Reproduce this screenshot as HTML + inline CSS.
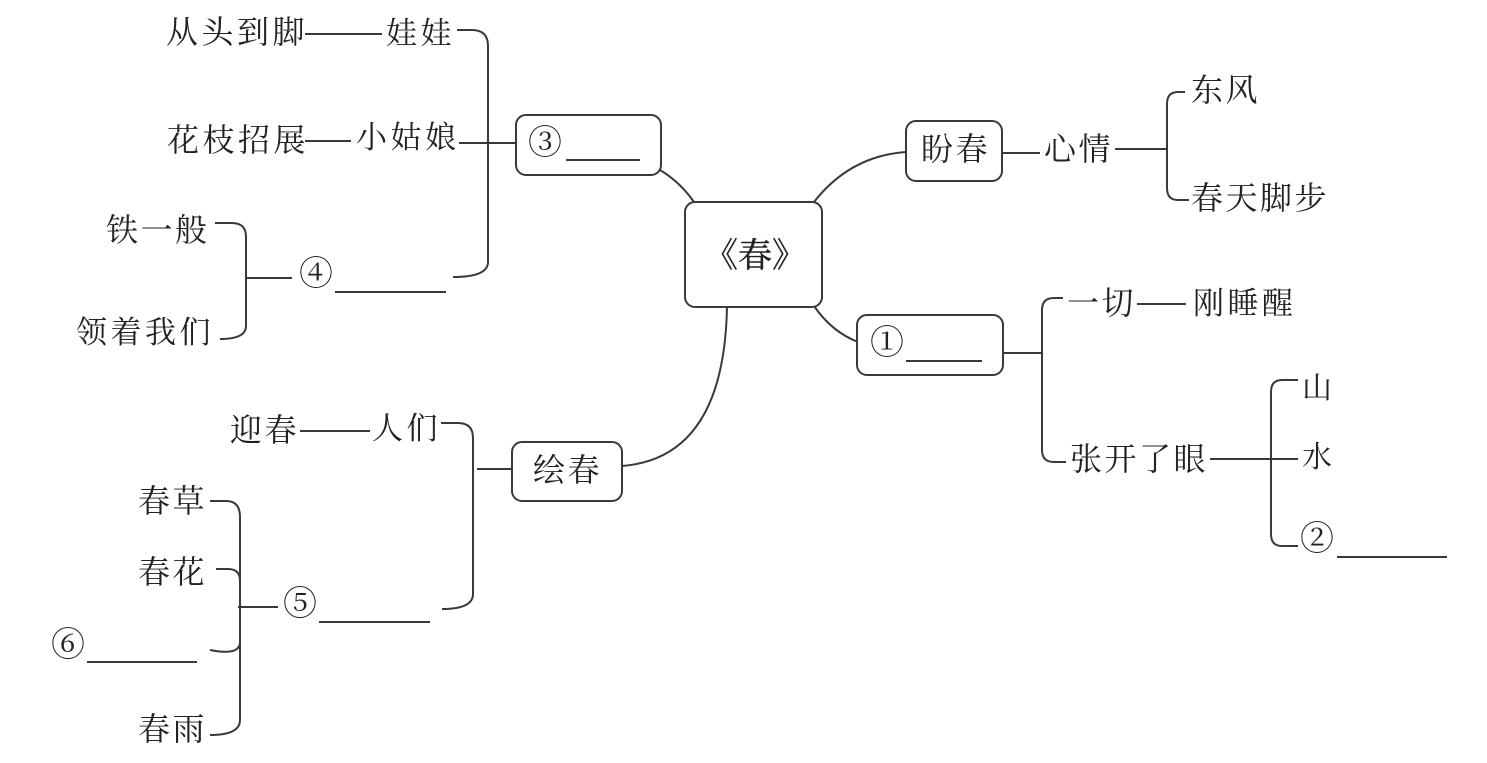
<!DOCTYPE html>
<html><head><meta charset="utf-8"><style>
html,body{margin:0;padding:0;background:#fff;width:1487px;height:763px;overflow:hidden}
svg{display:block}
text{font-family:"Noto Serif CJK SC","Liberation Serif",serif;font-size:32px;fill:#222;letter-spacing:2.5px}
.s{font-size:31px;letter-spacing:3.5px}
.t{font-size:30px;letter-spacing:0}
.w{letter-spacing:3.5px}
.c{font-size:34px;letter-spacing:0}
.l,rect{fill:none;stroke:#3a3a3a;stroke-width:2}
rect{fill:#fff}
</style></head><body>
<svg width="1487" height="763" viewBox="0 0 1487 763">
<g class="l">
<path d="M660 170Q680 182 694 202"/>
<path d="M814 202Q850 156 906 152"/>
<path d="M814 306Q832 332 858 342"/>
<path d="M727 307Q724 458 622 466"/>
<path d="M1003 153H1040M1115 149H1167M1185 92H1178Q1167 92 1167 104V188Q1167 200 1178 200H1189"/>
<path d="M1003 353H1042M1063 298H1054Q1042 298 1042 310V450Q1042 462 1054 462H1066M1137 304H1186M1210 459H1298M1298 380H1282Q1271 380 1271 392V534Q1271 546 1282 546H1298"/>
<path d="M1337 557H1447"/>
<path d="M305 34H382M305 141H351M457 30H472Q488 30 488 46V262Q488 277 453 277M459 143H516"/>
<path d="M215 223H232Q246 223 246 237V326Q246 339 220 339M246 278H292M335 292H446"/>
<path d="M300 431H370M441 423H458Q473 423 473 438V594Q473 609 442 609M477 469H512M319 622H430"/>
<path d="M210 501H226Q240 501 240 517V720Q240 735 210 735M216 569H228Q240 569 240 581M210 650Q240 656 240 642M238 607H278M87 662H197"/>
</g>
<rect x="685" y="202" width="137" height="105" rx="10"/>
<rect x="906" y="121" width="96" height="60" rx="10"/>
<rect x="857" y="315" width="146" height="60" rx="10"/>
<rect x="516" y="115" width="145" height="60" rx="10"/>
<rect x="512" y="442" width="110" height="59" rx="10"/>
<path class="l" d="M906 361H982M566 160H640"/>
<text x="704" y="267" style="font-size:34px;letter-spacing:0;stroke:#222;stroke-width:.4">《春》</text>
<text x="921" y="160">盼春</text>
<text x="1044" y="160">心情</text>
<text x="1191" y="101">东风</text>
<text x="1191" y="209">春天脚步</text>
<text class="c" x="870" y="354">①</text>
<text x="1067" y="314">一切</text>
<text class="s" x="1193" y="314">刚睡醒</text>
<text x="1070" y="470">张开了眼</text>
<text class="t" x="1302" y="398">山</text>
<text class="t" x="1302" y="467">水</text>
<text class="c" x="1300" y="550">②</text>
<text class="w" x="166" y="43">从头到脚</text>
<text class="s" x="386" y="44">娃娃</text>
<text class="w" x="167" y="151">花枝招展</text>
<text class="s" x="356" y="148">小姑娘</text>
<text class="c" x="528" y="154">③</text>
<text x="106" y="241">铁一般</text>
<text class="s" x="76" y="343">领着我们</text>
<text class="c" x="299" y="285">④</text>
<text x="230" y="441">迎春</text>
<text class="s" x="372" y="439">人们</text>
<text x="533" y="481">绘春</text>
<text x="138" y="512">春草</text>
<text x="138" y="583">春花</text>
<text class="c" x="283" y="615">⑤</text>
<text class="c" x="51" y="656">⑥</text>
<text x="138" y="740">春雨</text>
</svg>
</body></html>
